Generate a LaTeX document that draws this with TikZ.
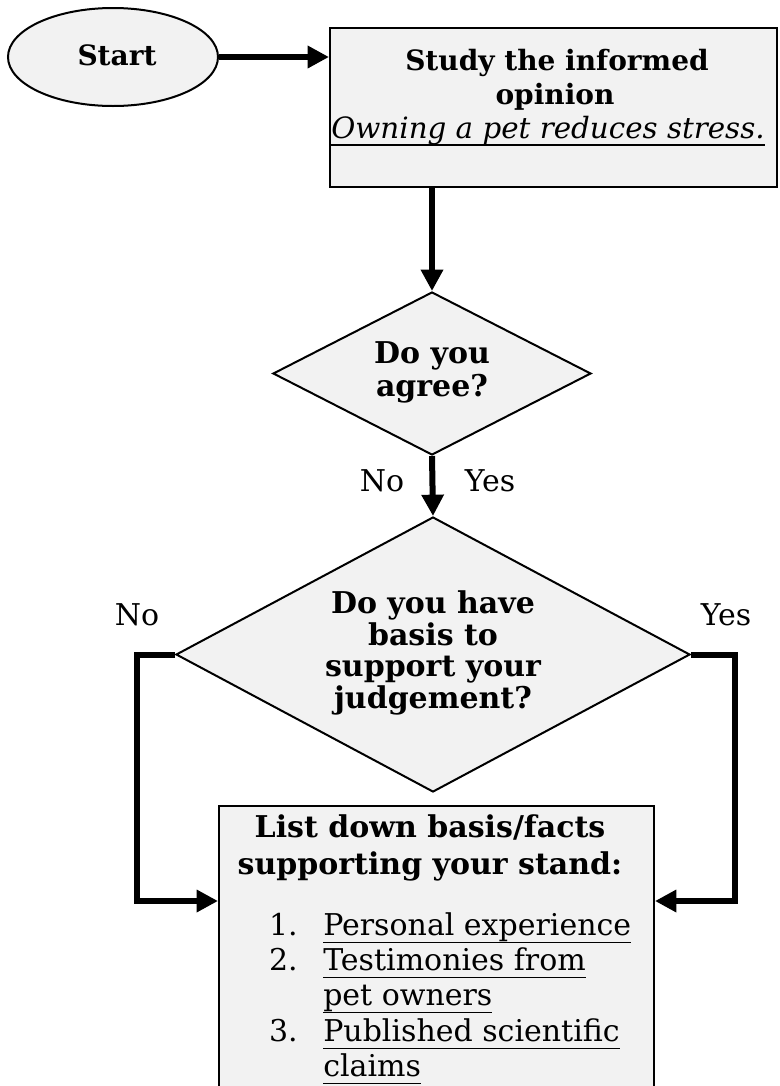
\documentclass[tikz,border=0pt]{standalone}
\usepackage{fontspec}
\setmainfont{DejaVu Serif}
\usetikzlibrary{shapes.geometric,arrows.meta}
\definecolor{boxfill}{HTML}{F2F2F2}
\newcommand\uln[1]{\leavevmode\setbox0=\hbox{#1}\rlap{\rule[-0.28em]{\wd0}{1.4pt}}\box0}
\begin{document}
\begin{tikzpicture}[x=0.75pt,y=-0.75pt,
  shp/.style={draw=black, line width=1.5pt, fill=boxfill, inner sep=0pt},
  arr/.style={line width=4.5pt, -{Triangle[length=16pt,width=16pt]}},
  txt/.style={inner sep=0pt, align=center},
  lbl/.style={inner sep=0pt, font=\fontsize{22.5}{26}\selectfont},
  num/.style={inner sep=0pt, anchor=base east, font=\fontsize{22.5}{26.5}\selectfont},
  item/.style={inner sep=0pt, anchor=base west, font=\fontsize{22.5}{26.5}\selectfont}]
\clip (0,0) rectangle (779,1086);
% shapes
\node[shp, ellipse, minimum width=157.5pt, minimum height=73.5pt] (start) at (113,57) {};
\node[shp, rectangle, minimum width=335.25pt, minimum height=119.25pt] (study) at (553.5,107.5) {};
\node[shp, diamond, minimum width=238.5pt, minimum height=122.25pt] (d1) at (432,373.5) {};
\node[shp, diamond, minimum width=385.5pt, minimum height=206.25pt] (d2) at (433,654.5) {};
\node[shp, rectangle, minimum width=326.25pt, minimum height=220.5pt] (list) at (436.5,953) {};
% texts
\node[txt, font=\bfseries\fontsize{21}{24}\selectfont] (tstart) at (117,55) {Start};
\node[txt, font=\bfseries\fontsize{21}{24.75}\selectfont] (ts1) at (557,63) {Study the informed};
\node[txt, font=\bfseries\fontsize{21}{24.75}\selectfont] (ts2) at (555,97) {opinion};
\node[txt, font=\itshape\fontsize{22}{24.75}\selectfont] (ts3) at (548,131) {\uln{Owning a pet reduces stress.}};
\node[txt, font=\bfseries\fontsize{22.5}{24.75}\selectfont] (td1) at (432,372) {Do you\\agree?};
\node[txt, font=\bfseries\fontsize{22.5}{23.75}\selectfont] (td2) at (433,653) {Do you have\\basis to\\support your\\judgement?};
\node[txt, font=\bfseries\fontsize{22.5}{27.75}\selectfont] (tlist) at (430,848) {List down basis/facts\\supporting your stand:};
\node[num] (n1) at (298,935) {1.};
\node[item] (i1) at (323,935) {\uln{Personal experience}};
\node[num] (n2) at (298,970) {2.};
\node[item] (i2) at (323,970) {\uln{Testimonies from}};
\node[item] (i2b) at (323,1005) {\uln{pet owners}};
\node[num] (n3) at (298,1041) {3.};
\node[item] (i3) at (323,1041) {\uln{Published scientific}};
\node[item] (i3b) at (323,1076) {\uln{claims}};
% labels
\node[lbl] (lno1) at (382,481) {No};
\node[lbl] (lyes1) at (490,481) {Yes};
\node[lbl] (lno2) at (137,615) {No};
\node[lbl] (lyes2) at (726,615) {Yes};
% connectors
\coordinate (nl) at (137,901);
\coordinate (ny) at (735,901);
\draw[arr] (start.east) -- (start.east -| study.west);
\draw[arr] (d1.north |- study.south) -- (d1.north);
\draw[arr] (d1.south) -- (d2.north);
\draw[arr] (d2.west) -- (d2.west -| nl) -- (nl) -- (nl -| list.west);
\draw[arr] (d2.east) -- (d2.east -| ny) -- (ny) -- (ny -| list.east);
\end{tikzpicture}
\end{document}
